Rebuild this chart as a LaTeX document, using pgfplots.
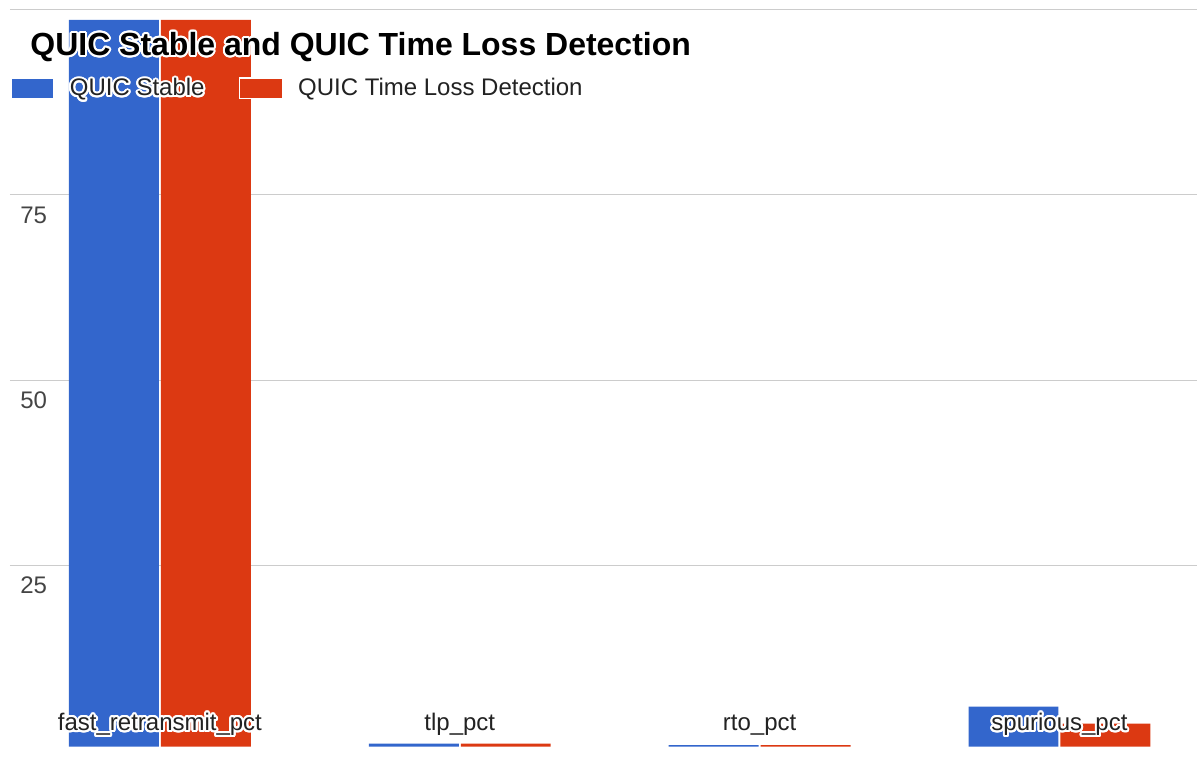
\documentclass[border=0pt]{standalone}
\usepackage{fontspec}
\setmainfont{Liberation Sans}
\usepackage{pgfplots}
\pgfplotsset{compat=1.18}
\usepackage{contour}
\contourlength{1pt}
\contournumber{24}

\definecolor{gblue}{HTML}{3366CC}
\definecolor{gred}{HTML}{DC3912}
\definecolor{gridgrey}{HTML}{CCCCCC}
\definecolor{ticktext}{HTML}{444444}
\definecolor{labeltext}{HTML}{222222}

\pgfplotsset{
  swatch/.style={legend image code/.code={
    \fill[##1] (0pt,-4.9pt) rectangle (21.5pt,5.3pt);
    \path[draw=white, fill=none, line width=0.8pt] (0pt,-4.9pt) rectangle (21.5pt,5.3pt);}},
}
\tikzset{
  catlabel/.style={anchor=base, inner sep=0pt, font=\fontsize{12pt}{14pt}\selectfont, text=labeltext},
}

\begin{document}
\begin{tikzpicture}
\begin{axis}[
  at={(5pt,0pt)}, anchor=south west,
  scale only axis, width=594pt, height=368.75pt,
  xmin=-0.5, xmax=3.46, ymin=0.6, ymax=100,
  ybar=1pt, bar width=45pt,
  xtick={0,1,2,3}, xticklabels={},
  ytick={25,50,75,100},
  yticklabels={25,50,75,},
  ymajorgrids, grid style={gridgrey, line width=0.6pt},
  axis line style={draw=none}, major tick length=0pt,
  yticklabel style={anchor=west, inner sep=0pt, xshift=5pt, yshift=-10pt, font=\fontsize{12pt}{14pt}\selectfont, text=ticktext},
  title={\contour{white}{QUIC Stable and QUIC Time Loss Detection}},
  title style={at={(axis description cs:0,1)}, anchor=base west, xshift=10pt, yshift=-29pt, inner sep=0pt, font=\bfseries\fontsize{16pt}{19pt}\selectfont},
  legend columns=2,
  legend style={at={(axis description cs:0,1)}, anchor=north west, xshift=0pt, yshift=-33.75pt, draw=none, fill=none, inner sep=0pt,
    nodes={inner sep=0pt, text=labeltext, font=\fontsize{12pt}{14pt}\selectfont},
    /tikz/every odd column/.append style={column sep=7.5pt},
    /tikz/every even column/.append style={column sep=17pt}},
  % category names sit inside the plot, over the bars
  after end axis/.code={
    \node[catlabel] at (axis cs:0,0.6) [yshift=8pt] {\contour{white}{fast\_retransmit\_pct}};
    \node[catlabel] at (axis cs:1,0.6) [yshift=8pt] {\contour{white}{tlp\_pct}};
    \node[catlabel] at (axis cs:2,0.6) [yshift=8pt] {\contour{white}{rto\_pct}};
    \node[catlabel] at (axis cs:3,0.6) [yshift=8pt] {\contour{white}{spurious\_pct}};
  },
]
% percentages per loss-recovery counter
\addplot[fill=gblue, draw=none, swatch] coordinates {(0,98.6) (1,1.0) (2,0.8) (3,6.0)};
\addplot[fill=gred, draw=none, swatch] coordinates {(0,98.6) (1,1.0) (2,0.8) (3,3.7)};
\legend{\contour{white}{QUIC Stable},\contour{white}{QUIC Time Loss Detection}}
\end{axis}
\path (0,0) rectangle (599pt,373.5pt);
\end{tikzpicture}
\end{document}
